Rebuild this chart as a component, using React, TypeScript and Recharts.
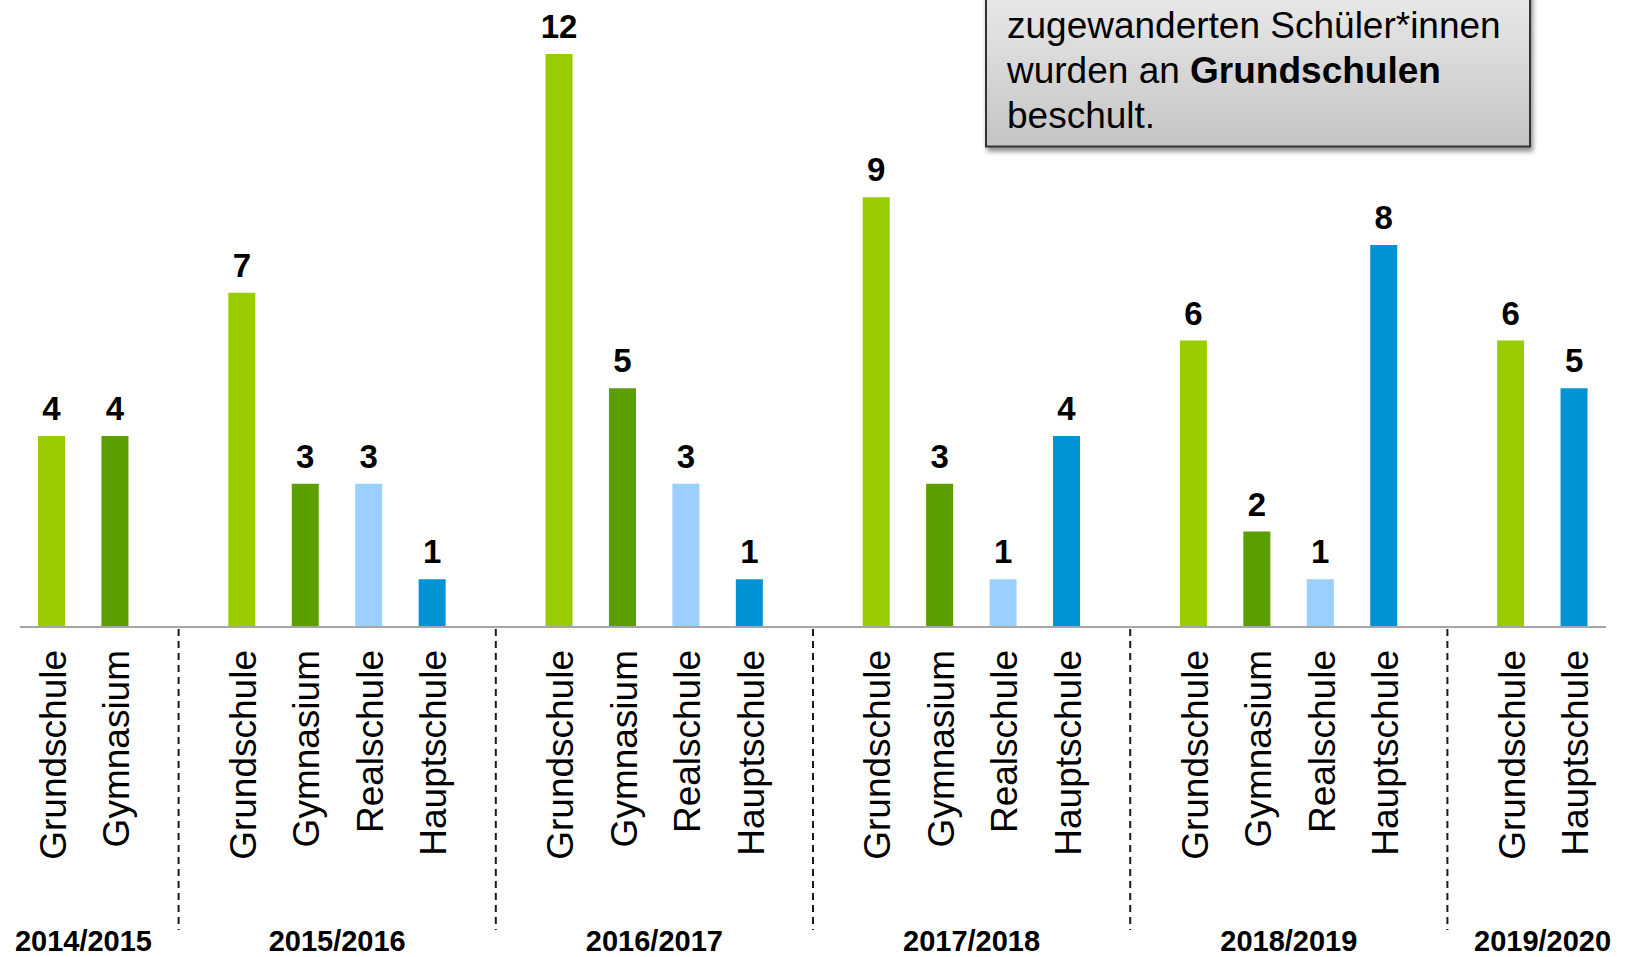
import React from 'react';
import { BarChart, Bar, XAxis, YAxis, Cell, LabelList } from 'recharts';

// ---------- data ----------
const yearLabels = ['2014/2015', '2015/2016', '2016/2017', '2017/2018', '2018/2019', '2019/2020'];

const schoolsByYear = [
  ['Grundschule', 'Gymnasium'],
  ['Grundschule', 'Gymnasium', 'Realschule', 'Hauptschule'],
  ['Grundschule', 'Gymnasium', 'Realschule', 'Hauptschule'],
  ['Grundschule', 'Gymnasium', 'Realschule', 'Hauptschule'],
  ['Grundschule', 'Gymnasium', 'Realschule', 'Hauptschule'],
  ['Grundschule', 'Hauptschule'],
];

const valuesByYear = [
  [4, 4],
  [7, 3, 3, 1],
  [12, 5, 3, 1],
  [9, 3, 1, 4],
  [6, 2, 1, 8],
  [6, 5],
];

const schoolColors: Record<string, string> = {
  Grundschule: '#99CC00',
  Gymnasium: '#5A9E00',
  Realschule: '#9BCFFF',
  Hauptschule: '#0093D3',
};

const calloutLine1 = 'zugewanderten Schüler*innen';
const calloutLine2Regular = 'wurden an ';
const calloutLine2Bold = 'Grundschulen';
const calloutLine3 = 'beschult.';

// ---------- build rows (with an empty slot between school years) ----------
type Row = {
  id: string;
  school: string;
  value: number | null;
  year: string;
  pos: number;
  size: number;
  gap: boolean;
};

const rows: Row[] = [];
yearLabels.forEach((year, gi) => {
  if (gi > 0) {
    rows.push({ id: `gap-${gi}`, school: '', value: null, year: '', pos: -1, size: 0, gap: true });
  }
  const schools = schoolsByYear[gi];
  schools.forEach((school, si) => {
    rows.push({
      id: `${year}-${school}`,
      school,
      value: valuesByYear[gi][si],
      year,
      pos: si,
      size: schools.length,
      gap: false,
    });
  });
});

// ---------- layout ----------
const W = 1628;
const H = 957;
const MARGIN = { top: 54, right: 22, bottom: 0, left: 20 };
const X_AXIS_HEIGHT = 330;
const PLOT_W = W - MARGIN.left - MARGIN.right;
const SLOT = PLOT_W / rows.length;
const FONT = '"Liberation Sans", Arial, Helvetica, sans-serif';

const CategoryTick = (props: any) => {
  const { x, y, payload } = props;
  const row = rows.find((r) => r.id === payload.value);
  if (!row) return null;
  if (row.gap) {
    return (
      <line
        x1={x}
        x2={x}
        y1={y + 2}
        y2={y + 303}
        stroke="#1a1a1a"
        strokeWidth={2}
        strokeDasharray="7 5"
      />
    );
  }
  const ty = y + 23;
  const cx = x + ((row.size - 1) / 2) * SLOT;
  return (
    <g>
      <text
        x={x}
        y={ty}
        dy={14}
        transform={`rotate(-90, ${x}, ${ty})`}
        textAnchor="end"
        fontSize={37}
        fontFamily={FONT}
        fill="#000"
      >
        {row.school}
      </text>
      {row.pos === 0 && (
        <text
          x={cx}
          y={y + 324}
          textAnchor="middle"
          fontSize={29}
          fontWeight="bold"
          fontFamily={FONT}
          fill="#000"
        >
          {row.year}
        </text>
      )}
    </g>
  );
};

const ValueLabel = (p: any) => {
  const { x, y, width, value } = p;
  if (value === null || value === undefined) return null;
  return (
    <text
      x={Number(x) + Number(width) / 2}
      y={Number(y) - 16}
      textAnchor="middle"
      fontSize={33}
      fontWeight="bold"
      fontFamily={FONT}
      fill="#000"
    >
      {value}
    </text>
  );
};

export default function App() {
  return (
    <div
      style={{
        position: 'absolute',
        left: 0,
        top: 0,
        width: W,
        height: H,
        background: '#fff',
        overflow: 'hidden',
      }}
    >
      <BarChart width={W} height={H} data={rows} margin={MARGIN} barCategoryGap={0}>
        <XAxis
          dataKey="id"
          type="category"
          interval={0}
          height={X_AXIS_HEIGHT}
          tickLine={false}
          tickSize={0}
          tickMargin={0}
          axisLine={{ stroke: '#A6A6A6', strokeWidth: 2 }}
          tick={<CategoryTick />}
        />
        <YAxis hide width={0} domain={[0, 12]} type="number" />
        <Bar dataKey="value" barSize={27} isAnimationActive={false}>
          {rows.map((r) => (
            <Cell key={r.id} fill={schoolColors[r.school] || 'transparent'} />
          ))}
          <LabelList dataKey="value" content={<ValueLabel />} />
        </Bar>
      </BarChart>

      <svg
        width={W}
        height={H}
        style={{ position: 'absolute', left: 0, top: 0, pointerEvents: 'none' }}
      >
        <defs>
          <linearGradient id="calloutFill" x1="0" y1="0" x2="0" y2="1">
            <stop offset="0%" stopColor="#EFEFEF" />
            <stop offset="100%" stopColor="#C4C4C4" />
          </linearGradient>
          <filter id="calloutShadow" x="-5%" y="-5%" width="115%" height="130%">
            <feDropShadow dx="2" dy="4" stdDeviation="2.5" floodColor="#000" floodOpacity="0.45" />
          </filter>
        </defs>
        <rect
          x={986}
          y={-30}
          width={544}
          height={176.5}
          fill="url(#calloutFill)"
          stroke="#333"
          strokeWidth={2}
          filter="url(#calloutShadow)"
        />
        <text x={1007} y={38} fontSize={37} fontFamily={FONT} fill="#000">
          {calloutLine1}
        </text>
        <text x={1007} y={83} fontSize={37} fontFamily={FONT} fill="#000">
          {calloutLine2Regular}
          <tspan fontWeight="bold">{calloutLine2Bold}</tspan>
        </text>
        <text x={1007} y={128} fontSize={37} fontFamily={FONT} fill="#000">
          {calloutLine3}
        </text>
      </svg>
    </div>
  );
}
